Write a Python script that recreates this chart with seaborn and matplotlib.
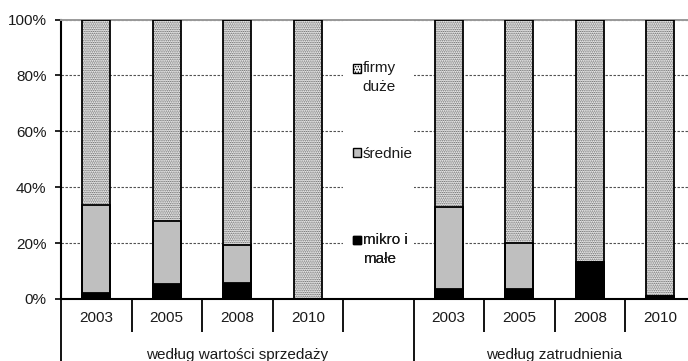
import numpy as np
import pandas as pd
import seaborn as sns
import matplotlib.pyplot as plt
from matplotlib.patches import Patch, Rectangle
from matplotlib.legend_handler import HandlerPatch

# --- data (shares in %, stacked from the bottom) ---
years = ['2003', '2005', '2008', '2010']
group_labels = ['według wartości sprzedaży', 'według zatrudnienia']
legend_labels = ['firmy\nduże', 'średnie', 'mikro i\nmałe']
y_tick_labels = ['0%', '20%', '40%', '60%', '80%', '100%']

mikro_sprzedaz = [2.3, 5.2, 5.6, 0.0]
srednie_sprzedaz = [31.2, 22.6, 13.6, 0.0]
duze_sprzedaz = [66.5, 72.2, 80.8, 100.0]

mikro_zatrudnienie = [3.5, 3.5, 13.1, 1.2]
srednie_zatrudnienie = [29.5, 16.6, 0.0, 0.0]
duze_zatrudnienie = [67.0, 79.9, 86.9, 98.8]

# --- table: one row per bar, cumulative levels for overlaid stacking ---
keys_s = ['S' + y for y in years]
keys_z = ['Z' + y for y in years]
order = keys_s + ['legend'] + keys_z
legend_slot = order.index('legend')

df = pd.DataFrame({
    'slot': keys_s + keys_z,
    'mikro': mikro_sprzedaz + mikro_zatrudnienie,
    'srednie': srednie_sprzedaz + srednie_zatrudnienie,
    'duze': duze_sprzedaz + duze_zatrudnienie,
})
df['low'] = df['mikro']
df['mid'] = df['mikro'] + df['srednie']
df['top'] = df['mid'] + df['duze']

sns.set_style('white')
plt.rcParams['font.family'] = ['Liberation Sans', 'DejaVu Sans']
plt.rcParams['hatch.linewidth'] = 0.7
TXT = '#1a1a1a'

W, H = 688, 361
fig = plt.figure(figsize=(W / 100, H / 100), dpi=100)
ax = fig.add_axes([61 / W, 62 / H, 634.5 / W, 279.5 / H])

EDGE = 1.3
BAR_W = 0.4
DOTS = '.........'
DOT_FACE = '#f2f2f2'
DOT_INK = '#5a5a5a'
GREY = '#bfbfbf'

# large firms: dotted fill spanning the whole bar
sns.barplot(data=df, x='slot', y='top', order=order, color=DOT_FACE,
            saturation=1, width=BAR_W, edgecolor=DOT_INK, linewidth=0,
            hatch=DOTS, zorder=2, ax=ax)
# medium firms (grey) over the lower part
sns.barplot(data=df, x='slot', y='mid', order=order, color=GREY,
            saturation=1, width=BAR_W, edgecolor='black', linewidth=EDGE,
            zorder=3, ax=ax)
# micro and small firms (black) at the base
sns.barplot(data=df, x='slot', y='low', order=order, color='black',
            saturation=1, width=BAR_W, edgecolor='black', linewidth=EDGE,
            zorder=4, ax=ax)
# outline of the full bars
sns.barplot(data=df, x='slot', y='top', order=order, color='black',
            fill=False, saturation=1, width=BAR_W, linewidth=EDGE,
            zorder=5, ax=ax)

# --- axes ---
ax.set_xlim(-0.5, len(order) - 0.5)
ax.set_ylim(0, 100)
ax.set_yticks(np.arange(0, 101, 20))
ax.set_yticklabels(y_tick_labels, fontsize=11, color=TXT)
ax.set_xticks(range(len(order)))
ax.set_xticklabels(years + [''] + years, fontsize=11, color=TXT)
ax.set_xlabel('')
ax.set_ylabel('')
ax.tick_params(axis='y', length=4, width=1.2, color='black', pad=6.5,
               left=True, direction='out')
ax.tick_params(axis='x', length=0, pad=9)

ax.grid(axis='y', linestyle=(0, (2.2, 1.4)), color='#505050', linewidth=0.8)
ax.grid(axis='x', visible=False)
ax.set_axisbelow(True)

for side in ('left', 'bottom'):
    ax.spines[side].set_color('black')
    ax.spines[side].set_linewidth(1.5)
ax.spines['top'].set_color('#9a9a9a')
ax.spines['top'].set_linewidth(1.4)
ax.spines['right'].set_visible(False)

# category table under the axis: short separators between years,
# long separators between the two groups
xt = ax.get_xaxis_transform()
for i in range(len(order) + 1):
    x = i - 0.5
    long_line = i in (0, legend_slot + 1, len(order))
    y1 = -0.25 if long_line else -0.118
    ax.plot([x, x], [0, y1], color='black', lw=1.3, transform=xt,
            clip_on=False, solid_capstyle='butt')

# group captions centred under each half of the table
first_mid = (-0.5 + legend_slot + 0.5) / 2
second_mid = (legend_slot + 0.5 + len(order) - 0.5) / 2
ax.text(first_mid, -0.2147, group_labels[0], transform=xt,
        ha='center', va='baseline', fontsize=11, color=TXT)
ax.text(second_mid, -0.2147, group_labels[1],
        transform=xt, ha='center', va='baseline', fontsize=11, color=TXT)

# --- legend area in the empty slot: white panel, then one entry per series ---
ax.add_patch(Rectangle((legend_slot - 0.5, 0.6), 1.0, 98.8, transform=ax.transData,
                       facecolor='white', edgecolor='none', zorder=1))

LINE_SHIFT = 0.62


def square_marker(legend, orig_handle, xdescent, ydescent, width, height,
                  fontsize):
    n_extra = orig_handle.get_label().count('\n')
    dy = n_extra * LINE_SHIFT * fontsize
    return Rectangle((-xdescent, -ydescent + dy), width, height)


handles = [
    Patch(facecolor='white', edgecolor='black', hatch='......',
          linewidth=1.0, label=legend_labels[0]),
    Patch(facecolor=GREY, edgecolor='black', linewidth=1.0,
          label=legend_labels[1]),
    Patch(facecolor='black', edgecolor='black', linewidth=1.0,
          label=legend_labels[2]),
]
entry_levels = [79.2, 51.9, 17.7]

for h, lvl in zip(handles, entry_levels):
    leg = ax.legend(handles=[h], loc='center left',
                    bbox_to_anchor=(legend_slot - 0.36, lvl),
                    bbox_transform=ax.transData, borderaxespad=0,
                    borderpad=0, frameon=False, handlelength=0.5,
                    handleheight=0.5, handletextpad=0.15, fontsize=11,
                    handler_map={Patch: HandlerPatch(patch_func=square_marker)})
    for t in leg.get_texts():
        t.set_linespacing(1.45)
        t.set_color(TXT)
    leg.set_zorder(6)
    ax.add_artist(leg)

fig.savefig('out.png', dpi=100)
